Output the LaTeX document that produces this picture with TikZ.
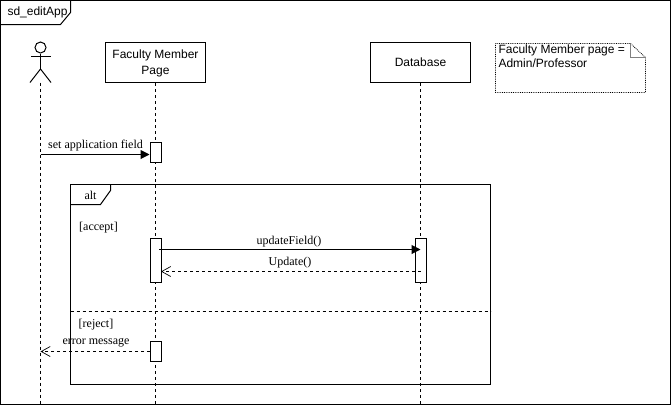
\documentclass[tikz,border=0pt]{standalone}
\usepackage{fontspec}
\setmainfont{Liberation Serif}
\setsansfont{Liberation Sans}
\usepackage{tikz}
\usetikzlibrary{arrows.meta}

\tikzset{
  part/.style={draw, fill=white, minimum width=100pt, minimum height=40pt, align=center, inner sep=0pt, font=\sffamily\fontsize{12}{16}\selectfont},
  lifeline/.style={densely dashed, dash pattern=on 3pt off 3pt},
  activation/.style={draw, fill=white, minimum width=11pt, inner sep=0pt},
  msgtext/.style={inner sep=0pt, font=\fontsize{12}{14}\selectfont},
  call/.style={-{Triangle[length=9pt,width=9pt]}},
  reply/.style={dash pattern=on 3pt off 3pt, -{Straight Barb[length=9pt,width=10pt]}, line width=0.7pt},
}

\begin{document}
\begin{tikzpicture}[x=1pt, y=-1pt, line width=1pt]
\useasboundingbox (0,0) rectangle (671,405);
% outer frame
\coordinate (f0) at (0.5,0.5);
\coordinate (f1) at (670.5,404.5);
\draw (f0) rectangle (f1);
\draw (0.5,24.5) -- (60.5,24.5) -- (70.5,12.5) -- (70.5,0.5);
\node[anchor=west, inner sep=0pt, font=\sffamily\fontsize{12}{14}\selectfont] (sdtitle) at (7,12) {sd\_editApp};
% actor
\node[draw, circle, minimum size=11pt, inner sep=0pt] (head) at (40.5,47.5) {};
\coordinate (armL) at (31,56);
\coordinate (armR) at (51,56);
\coordinate (hip) at (40.5,69);
\coordinate (legL) at (30,82.5);
\coordinate (legR) at (51,82.5);
\draw (armL) -- (armR);
\draw (head) -- (hip);
\draw (legL) -- (hip) -- (legR);
% parts
\node[part] (page) at (155.5,62.5) {\rule{0pt}{11pt}Faculty Member\\Page};
\node[part] (db) at (420.5,62.5) {Database};
% note
\coordinate (n0) at (495.5,43.5);
\draw[densely dotted, line width=0.8pt] (n0) -- (630.5,43.5) -- (645.5,57.5) -- (645.5,92.5) -- (495.5,92.5) -- cycle;
\draw[line width=0.6pt, gray] (630.5,43.5) -- (630.5,57.5) -- (645.5,57.5);
\node[anchor=north west, inner sep=0pt, align=left, font=\sffamily\fontsize{12}{14}\selectfont] (note) at (498,44.5) {Faculty Member page =\\Admin/Professor};
% lifelines
\coordinate (actorEnd) at (40.5,404);
\coordinate (pageEnd) at (155.5,404);
\coordinate (dbEnd) at (420.5,404);
\draw[lifeline] (legL -| hip) -- (actorEnd);
\draw[lifeline] (page) -- (pageEnd);
\draw[lifeline] (db) -- (dbEnd);
% alt frame
\coordinate (alt0) at (70.5,184.5);
\coordinate (alt1) at (490.5,384.5);
\draw (alt0) rectangle (alt1);
\draw (70.5,204.5) -- (100.5,204.5) -- (110.5,190.5) -- (110.5,184.5);
\node[msgtext] (alt) at (90.5,195) {alt};
\node[msgtext] (accept) at (98.5,228) {[accept]};
\node[msgtext] (reject) at (96,325) {[reject]};
\coordinate (sepL) at (70.5,311.5);
\coordinate (sepR) at (490.5,311.5);
\draw[lifeline] (sepL) -- (sepR);
% activations
\node[activation, minimum height=20pt] (a1) at (155.5,152.5) {};
\node[activation, minimum height=44pt] (a2) at (155.5,260.5) {};
\node[activation, minimum height=44pt] (a3) at (420.5,260.5) {};
\node[activation, minimum height=20pt] (a4) at (155.5,351.5) {};
% messages
\coordinate (m1) at (40.5,154.5);
\draw[call] (m1) -- (a1.west |- m1);
\node[msgtext] (t1) at (95.5,145.5) {set application field};
\coordinate (m2) at (159,249.5);
\coordinate (m2e) at (420.5,249.5);
\draw[call] (m2) -- (m2e);
\node[msgtext] (t2) at (289,241.5) {updateField()};
\coordinate (m3) at (420.5,271.5);
\coordinate (m3e) at (161,271.5);
\draw[reply] (m3) -- (m3e);
\node[msgtext] (t3) at (290,262.5) {Update()};
\coordinate (m4) at (150,351.5);
\coordinate (m4e) at (40.5,351.5);
\draw[reply] (m4) -- (m4e);
\node[msgtext] (t4) at (96,342.5) {error message};
\end{tikzpicture}
\end{document}
